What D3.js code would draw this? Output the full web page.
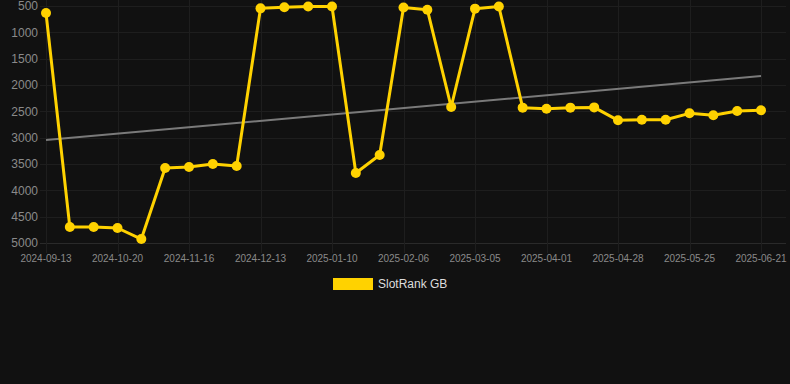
<!DOCTYPE html>
<html>
<head>
<meta charset="utf-8">
<script src="https://cdn.jsdelivr.net/npm/d3@7"></script>
<style>
  html, body { margin: 0; padding: 0; background: #111111; }
  svg { display: block; font-family: "Liberation Sans", Arial, sans-serif; }
</style>
</head>
<body>
<svg id="chart" width="790" height="384"></svg>
<script>
// dates (category axis, evenly spaced), only every 3rd one is labelled
var dates = [
    "2024-09-13", "2024-09-25", "2024-10-08", "2024-10-20", "2024-10-29", "2024-11-07",
    "2024-11-16", "2024-11-25", "2024-12-04", "2024-12-13", "2024-12-22", "2025-01-01",
    "2025-01-10", "2025-01-19", "2025-01-28", "2025-02-06", "2025-02-15", "2025-02-24",
    "2025-03-05", "2025-03-14", "2025-03-23", "2025-04-01", "2025-04-10", "2025-04-19",
    "2025-04-28", "2025-05-07", "2025-05-16", "2025-05-25", "2025-06-03", "2025-06-12",
    "2025-06-21"
];
var rankGB = [
    633, 4697, 4697, 4715, 4925, 3577,
    3557, 3500, 3538, 545, 525, 510,
    510, 3671, 3329, 530, 570, 2418,
    550, 510, 2430, 2450, 2430, 2425,
    2671, 2660, 2660, 2538, 2576, 2494,
    2481
];
var trendEnds = [3045, 1829];
var yTicks = [500, 1000, 1500, 2000, 2500, 3000, 3500, 4000, 4500, 5000];
var seriesName = "SlotRank GB";

var svg = d3.select("#chart");
var margin = { left: 46, right: 29, top: 6, bottom: 141 };
var width = 790, height = 384;

var x = d3.scalePoint()
    .domain(dates)
    .range([margin.left, width - margin.right]);

// rank axis: 500 on top, 5000 at the bottom
var y = d3.scaleLinear()
    .domain([500, 5000])
    .range([margin.top, height - margin.bottom]);

var gridColor = "#1e1e1e";
var labelColor = "#8a8a8a";

// horizontal grid + y labels
var gY = svg.append("g");
yTicks.forEach(function (t, i) {
    gY.append("line")
        .attr("x1", 40)
        .attr("x2", 786)
        .attr("y1", Math.round(y(t)) + 0.5)
        .attr("y2", Math.round(y(t)) + 0.5)
        .style("stroke", i == yTicks.length - 1 ? "#2a2a2a" : gridColor)
        .style("stroke-width", 1);
    gY.append("text")
        .attr("x", 38)
        .attr("y", y(t))
        .attr("dy", "0.35em")
        .attr("text-anchor", "end")
        .style("font-size", "12px")
        .style("fill", labelColor)
        .text(t);
});

// vertical grid + x labels on every 3rd date
var gX = svg.append("g");
dates.forEach(function (d, i) {
    if (i % 3 != 0) return;
    var px = Math.round(x(d)) + 0.5;
    gX.append("line")
        .attr("x1", px)
        .attr("x2", px)
        .attr("y1", 0)
        .attr("y2", 253)
        .style("stroke", gridColor)
        .style("stroke-width", 1);
    gX.append("text")
        .attr("x", x(d))
        .attr("y", 262)
        .attr("text-anchor", "middle")
        .style("font-size", "10px")
        .style("fill", labelColor)
        .text(d);
});

// trend line
svg.append("line")
    .attr("x1", x(dates[0]))
    .attr("y1", y(trendEnds[0]))
    .attr("x2", x(dates[dates.length - 1]))
    .attr("y2", y(trendEnds[1]))
    .style("stroke", "#7a7a7a")
    .style("stroke-width", 2);

// series line
var line = d3.line()
    .x(function (d, i) { return x(dates[i]); })
    .y(function (d) { return y(d); });

svg.append("path")
    .datum(rankGB)
    .attr("d", line)
    .style("fill", "none")
    .style("stroke", "#ffd200")
    .style("stroke-width", 3)
    .style("stroke-linejoin", "round");

svg.selectAll("circle.pt")
    .data(rankGB)
    .enter()
    .append("circle")
    .attr("class", "pt")
    .attr("cx", function (d, i) { return x(dates[i]); })
    .attr("cy", function (d) { return y(d); })
    .attr("r", 5)
    .style("fill", "#ffd200");

// legend
var legend = svg.append("g");
legend.append("rect")
    .attr("x", 333)
    .attr("y", 278)
    .attr("width", 40)
    .attr("height", 12)
    .style("fill", "#ffd200");
legend.append("text")
    .attr("x", 378)
    .attr("y", 284)
    .attr("dy", "0.35em")
    .style("font-size", "12px")
    .style("fill", "#dddddd")
    .text(seriesName);
</script>
</body>
</html>
